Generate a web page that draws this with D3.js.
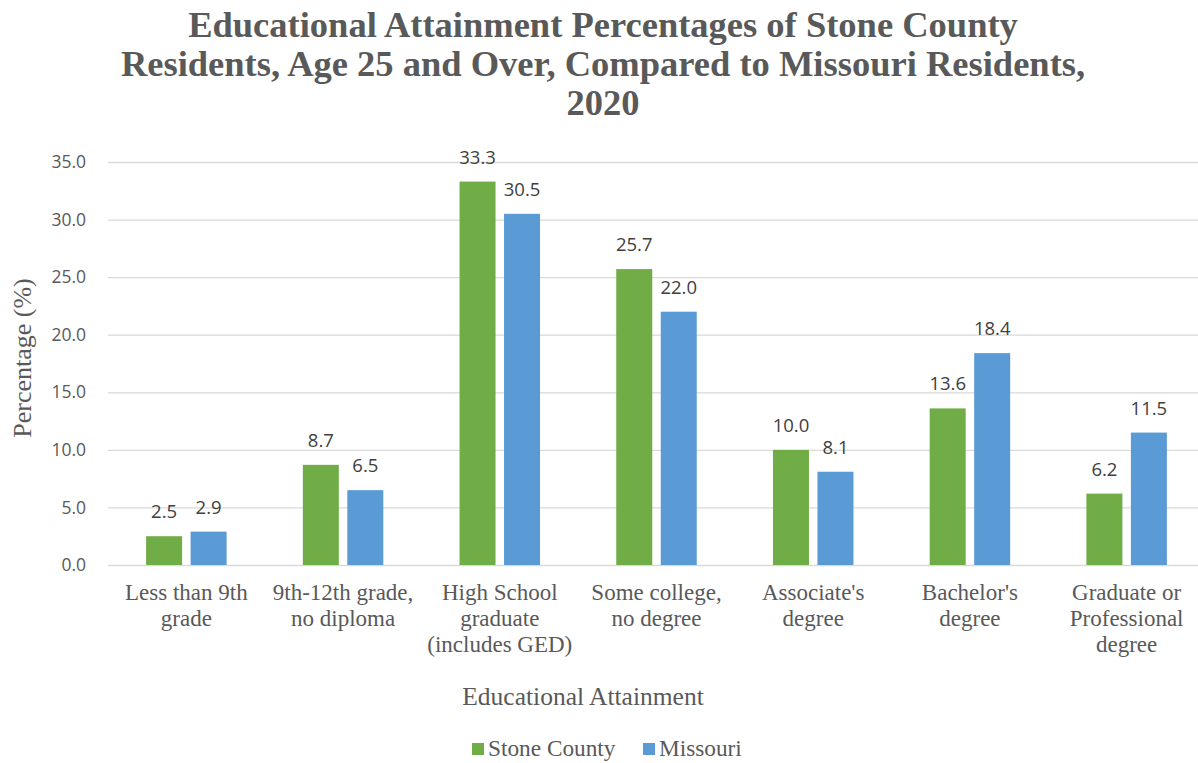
<!DOCTYPE html>
<html>
<head>
<meta charset="utf-8">
<script src="https://cdn.jsdelivr.net/npm/d3@7"></script>
<style>
  body { margin: 0; background: #fff; overflow: hidden; }
</style>
</head>
<body>
<svg id="chart" width="1198" height="763"></svg>
<script>
'use strict'

const categories = [
  ['Less than 9th', 'grade'],
  ['9th-12th grade,', 'no diploma'],
  ['High School', 'graduate', '(includes GED)'],
  ['Some college,', 'no degree'],
  ["Associate's", 'degree'],
  ["Bachelor's", 'degree'],
  ['Graduate or', 'Professional', 'degree']
]
const seriesNames = ['Stone County', 'Missouri']
const stoneCounty = [2.5, 8.7, 33.3, 25.7, 10.0, 13.6, 6.2]
const missouri = [2.9, 6.5, 30.5, 22.0, 8.1, 18.4, 11.5]
const yTicks = [0, 5, 10, 15, 20, 25, 30, 35]
const titleLines = [
  'Educational Attainment Percentages of Stone County',
  'Residents, Age 25 and Over, Compared to Missouri Residents,',
  '2020'
]

;(function (d3) {
  const colors = ['#70AD47', '#5B9BD5']
  const serif = '"Liberation Serif", "DejaVu Serif", serif'
  const sans = '"Open Sans", "Liberation Sans", sans-serif'

  const svg = d3.select('#chart')
  const margin = { left: 108, right: 1205, top: 162, bottom: 565 }

  const x = d3.scaleBand().domain(d3.range(categories.length)).range([margin.left, margin.right]).padding(0)
  const y = d3.scaleLinear().domain([0, 35]).range([margin.bottom, margin.top])

  // title
  svg.append('text')
    .attr('x', 603).attr('y', 37)
    .attr('text-anchor', 'middle')
    .style('font-family', serif).style('font-weight', 'bold')
    .style('font-size', '36.5px').style('fill', '#595959')
    .selectAll('tspan').data(titleLines).join('tspan')
    .attr('x', 603).attr('dy', (d, i) => i === 0 ? 0 : 39)
    .text(d => d)

  // gridlines + y ticks
  const yAxis = svg.append('g')
    .attr('transform', `translate(${margin.left},0)`)
    .call(d3.axisLeft(y).tickValues(yTicks).tickSize(-(margin.right - margin.left)).tickFormat(d3.format('.1f')).tickPadding(22))
  yAxis.select('.domain').remove()
  yAxis.selectAll('.tick line').attr('stroke', '#d9d9d9').attr('stroke-width', 1.3)
  yAxis.selectAll('.tick text')
    .style('font-family', sans).style('font-size', '17.5px').style('fill', '#595959')

  // y title
  svg.append('text')
    .attr('transform', 'translate(31,358) rotate(-90)')
    .attr('text-anchor', 'middle')
    .style('font-family', serif).style('font-size', '26px').style('fill', '#595959')
    .text('Percentage (%)')

  const barW = 36, gap = 8.5
  const groupW = barW * 2 + gap
  const data = categories.map((c, i) => ({ i, vals: [stoneCounty[i], missouri[i]] }))

  const groups = svg.append('g').selectAll('g').data(data).join('g')
    .attr('transform', d => `translate(${x(d.i) + x.bandwidth() / 2 - groupW / 2},0)`)

  groups.selectAll('rect').data(d => d.vals).join('rect')
    .attr('x', (v, j) => j * (barW + gap))
    .attr('y', v => y(v))
    .attr('width', barW)
    .attr('height', v => margin.bottom - y(v))
    .attr('fill', (v, j) => colors[j])

  groups.selectAll('text.val').data(d => d.vals).join('text')
    .attr('class', 'val')
    .attr('x', (v, j) => j * (barW + gap) + barW / 2)
    .attr('y', v => y(v) - 18)
    .attr('text-anchor', 'middle')
    .style('font-family', sans).style('font-size', '18.5px').style('fill', '#404040')
    .text(v => v.toFixed(1))

  // x labels
  svg.append('g').selectAll('text').data(categories).join('text')
    .attr('x', (d, i) => x(i) + x.bandwidth() / 2)
    .attr('y', 600)
    .attr('text-anchor', 'middle')
    .style('font-family', serif).style('font-size', '23px').style('fill', '#595959')
    .each(function (d, i) {
      d3.select(this).selectAll('tspan').data(d).join('tspan')
        .attr('x', x(i) + x.bandwidth() / 2)
        .attr('dy', (t, k) => k === 0 ? 0 : 26)
        .text(t => t)
    })

  // x title
  svg.append('text')
    .attr('x', 583).attr('y', 705)
    .attr('text-anchor', 'middle')
    .style('font-family', serif).style('font-size', '25.5px').style('fill', '#595959')
    .text('Educational Attainment')

  // legend
  const legendX = [472, 643]
  const legend = svg.append('g').selectAll('g').data(seriesNames).join('g')
    .attr('transform', (d, i) => `translate(${legendX[i]},756)`)
  legend.append('rect').attr('x', 0).attr('y', -13).attr('width', 12).attr('height', 12)
    .attr('fill', (d, i) => colors[i])
  legend.append('text').attr('x', 16).attr('y', 0)
    .style('font-family', serif).style('font-size', '23.3px').style('fill', '#595959')
    .text(d => d)
})(d3)
</script>
</body>
</html>
